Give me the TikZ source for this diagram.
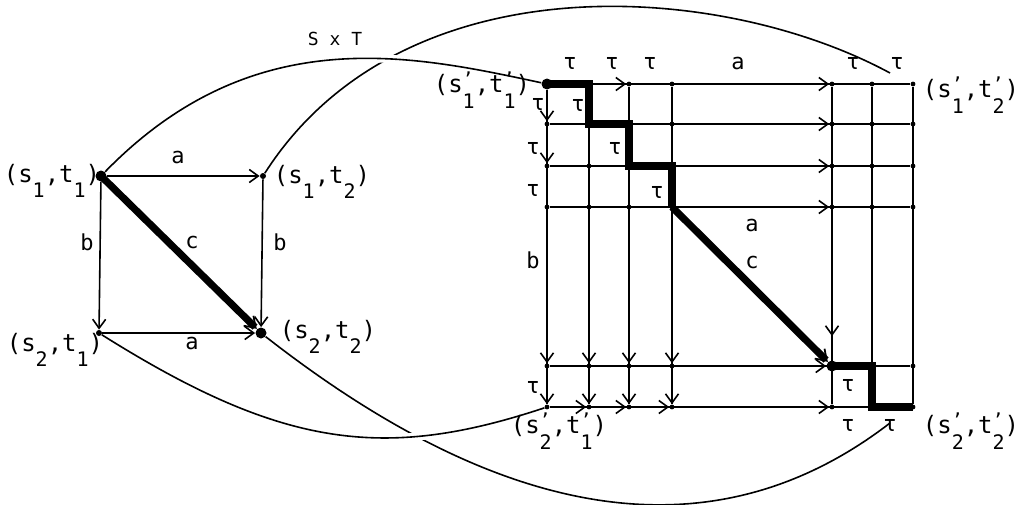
\documentclass[tikz,border=0pt]{standalone}
\usepackage{fontspec}
\setmainfont{DejaVu Sans Mono}
\usepackage{tikz}
\usetikzlibrary{arrows.meta,positioning,backgrounds}

% index with optional prime on top
\newcommand{\ix}[2]{\rlap{\raisebox{0.55ex}{\fontsize{9}{9}\selectfont#1}}\raisebox{-1.2ex}{\fontsize{10}{10}\selectfont#2}}
\newcommand{\st}[3]{(s\ix{#1}{#2},t\ix{#1}{#3})}

\begin{document}
\begin{tikzpicture}[
    x=0.5pt,y=-0.5pt,
    vert/.style={circle, fill=black, inner sep=0pt, minimum size=2.4pt},
    bigvert/.style={vert, minimum size=5.5pt},
    link/.style={line width=0.8pt},
    linkarr/.style={link, -{Straight Barb[length=4.5pt,width=6.5pt]}},
    route/.style={line width=3.6pt, line join=miter},
    routearr/.style={route, -{Straight Barb[length=5pt,width=7pt,line width=0.9pt]}},
    lbl/.style={font=\fontsize{11}{13}\selectfont, inner sep=1pt},
    plbl/.style={font=\fontsize{12}{14}\selectfont, inner sep=0pt},
    hull/.style={line width=0.8pt},
    hullover/.style={hull, preaction={draw=white, line width=4pt}}
  ]
    \useasboundingbox (0,0) rectangle (1020,504);

    % S x T
    \node[vert, minimum size=3pt] (s12) at (263,176) {};
    \node[vert, minimum size=3pt] (s21) at (99,333) {};
    \node[bigvert] (s22) at (261,333) {};
    \node[bigvert] (s11) at (101,176) {};

    \node[plbl] (n11) at (52,181) {\st{}{1}{1}};
    \node[plbl] (n12) at (322,182) {\st{}{1}{2}};
    \node[plbl] (n21) at (55,350) {\st{}{2}{1}};
    \node[plbl] (n22) at (328,337) {\st{}{2}{2}};

    \draw[linkarr] (s11) -- (s12);
    \draw[linkarr] (s11) -- (s21);
    \draw[linkarr] (s12) -- (s22);
    \draw[linkarr] (s21) -- (s22);
    \draw[routearr] (s11.center) -- (s22);

    \node[lbl] (la1) at (178,157) {a};
    \node[lbl] (lb1) at (87,242) {b};
    \node[lbl] (lc1) at (192,242) {c};
    \node[lbl] (lb2) at (280,242) {b};
    \node[lbl] (la2) at (192,343) {a};
    \node[lbl, font=\fontsize{9}{11}\selectfont] (sxt) at (335,39) {S x T};

    % S' x T' grid
    \foreach \c/\x in {1/547,2/589,3/629,4/672,5/832,6/872,7/913}
      \foreach \r/\y in {1/84,2/124,3/166,4/207,5/366,6/407}
        \node[vert] (g\c\r) at (\x,\y) {};
    \node[bigvert] (g11) at (547,84) {};
    \node[bigvert] (g55) at (832,366) {};

    \foreach \r in {1,...,6}{\draw[link] (g1\r) -- (g7\r);}
    \foreach \c in {1,...,7}{\draw[link] (g\c1) -- (g\c6);}

    \foreach \a/\b in {21/31,41/51,42/52,43/53,44/54,45/55,16/26,26/36,36/46,46/56,
                       11/12,12/13,14/15,15/16,24/25,25/26,34/35,35/36,44/45,45/46}
      \draw[linkarr] (g\a) -- (g\b);
    \draw[linkarr, shorten >=12pt] (g54) -- (g55);

    \draw[route] (g11.center) -- (g21.center) -- (g22.center) -- (g32.center)
      -- (g33.center) -- (g43.center) -- (g44.center);
    \draw[routearr] (g44.center) -- (g55);
    \draw[route] (g55.center) -- (g65.center) -- (g66.center) -- (g76.center);

    \node[plbl] (m11) at (482,90) {\st{'}{1}{1}};
    \node[plbl] (m12) at (971,95) {\st{'}{1}{2}};
    \node[plbl] (m21) at (559,431) {\st{'}{2}{1}};
    \node[plbl] (m22) at (971,431) {\st{'}{2}{2}};

    \foreach \x/\y [count=\i] in {570/63,612/63,650/63,853/63,897/63,
        538/104,533/148,533/190,533/387,578/105,615/148,657/192,848/385,848/425,890/425}
      \node[lbl] (tau\i) at (\x,\y) {τ};
    \node[lbl] (la3) at (738,63) {a};
    \node[lbl] (la4) at (752,225) {a};
    \node[lbl] (lb3) at (533,260) {b};
    \node[lbl] (lc2) at (752,262) {c};

    % projections
    \coordinate (c2end) at (890,73);
    \coordinate (c4end) at (890,423);
    \begin{scope}[on background layer]
      \draw[hull] (s12) .. controls (402,-41) and (720,-19) .. (c2end);
      \draw[hull] (s22) .. controls (467,494) and (690,577) .. (c4end);
      \draw[hullover] (s11) .. controls (253,20) and (412,55) .. (g11);
      \draw[hullover] (s21) .. controls (282,448) and (384,461) .. (g16);
    \end{scope}
\end{tikzpicture}
\end{document}
